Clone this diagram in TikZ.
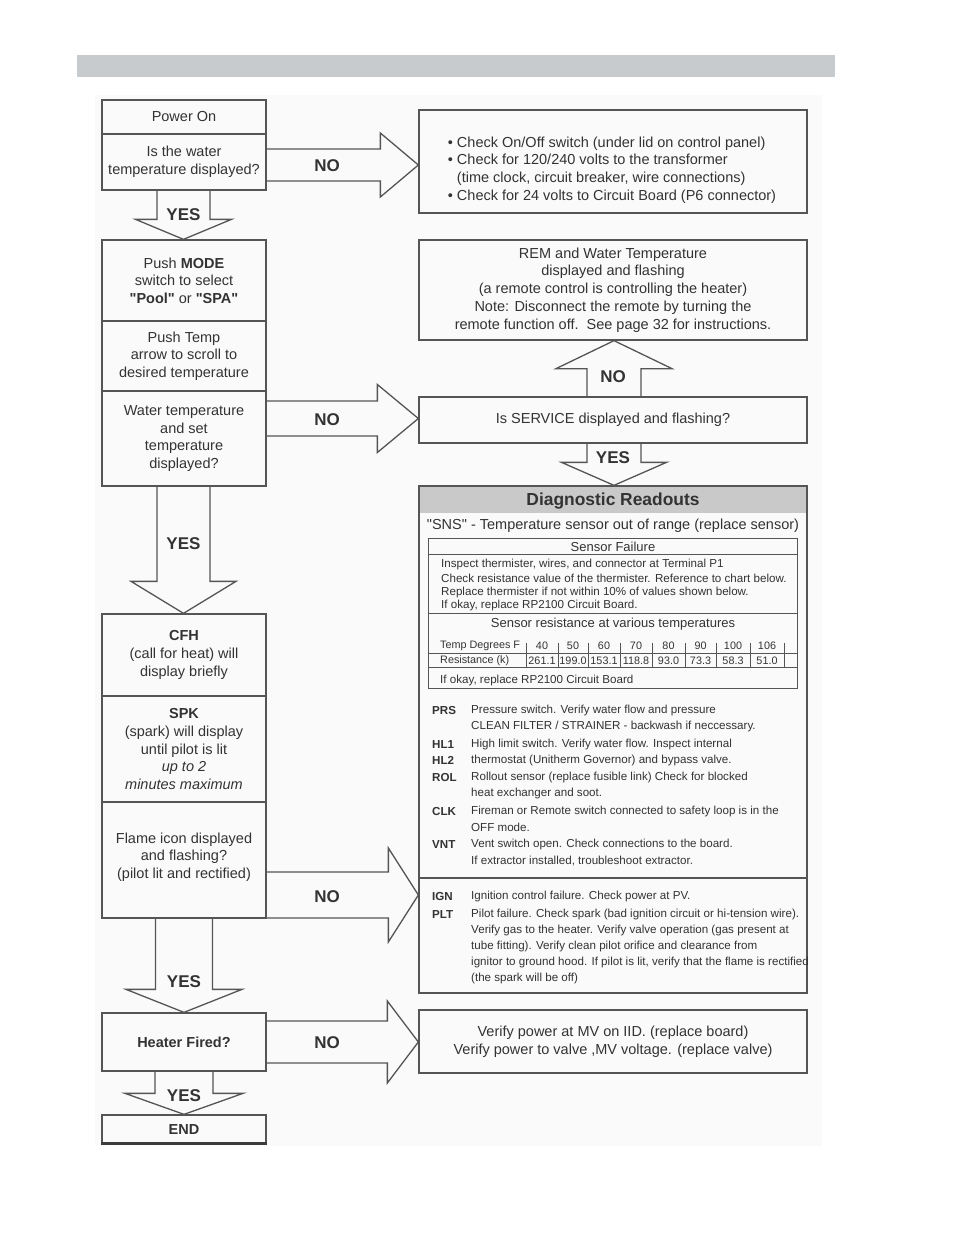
\documentclass[tikz,border=0pt]{standalone}
\usepackage{fontspec}
\setmainfont{Liberation Sans}[Ligatures=TeXOff]
\usetikzlibrary{calc}
\definecolor{lc}{HTML}{555555}
\definecolor{tc}{HTML}{333333}
\definecolor{barc}{HTML}{C8CBCE}
\definecolor{hdr}{HTML}{C9C9C9}
\definecolor{bgc}{HTML}{FAFAFA}
\newcommand\fmain{\fontsize{14.5}{17.6}\selectfont}
\newcommand\fsub{\fontsize{13}{15}\selectfont}
\newcommand\fsm{\fontsize{11.6}{14}\selectfont}
\newcommand\ftab{\fontsize{10.8}{13}\selectfont}
\newcommand\flab{\fontsize{17}{20}\selectfont\bfseries}
\tikzset{
 box/.style={draw=lc, line width=1.3pt, text=tc, align=center, inner sep=0pt, font=\fmain},
 lbox/.style={box, minimum width=164pt},
 rbox/.style={box, minimum width=388pt},
 blk/.style={draw=lc, line width=1.3pt, line join=miter},
 lab/.style={text=tc, font=\flab, inner sep=0pt},
 txt/.style={text=tc, font=\fmain, inner sep=0pt},
 sm/.style={text=tc, font=\fsm, inner sep=0pt, anchor=west},
 code/.style={text=tc, font=\fsm\bfseries, inner sep=0pt, anchor=west},
 thin/.style={draw=lc, line width=1pt},
}
% right block arrow: from, to, y centre, shaft half, head half, head length
\newcommand\arrR[6]{%
 \coordinate (ry) at (0,#3);
 \coordinate (ra) at (#1.east |- ry);
 \coordinate (rb) at (#2.west |- ry);
 \draw[blk] ($(ra)+(0,-#4)$) -- ($(rb)+(-#6,-#4)$) -- ($(rb)+(-#6,-#5)$) -- (rb) -- ($(rb)+(-#6,#5)$) -- ($(rb)+(-#6,#4)$) -- ($(ra)+(0,#4)$);}
% down block arrow: from, to, x centre, shaft half, head half, head length
\newcommand\arrD[6]{%
 \coordinate (rx) at (#3,0);
 \coordinate (ra) at (rx |- #1.south);
 \coordinate (rb) at (rx |- #2.north);
 \draw[blk] ($(ra)+(-#4,0)$) -- ($(rb)+(-#4,-#6)$) -- ($(rb)+(-#5,-#6)$) -- (rb) -- ($(rb)+(#5,-#6)$) -- ($(rb)+(#4,-#6)$) -- ($(ra)+(#4,0)$);}
% up block arrow
\newcommand\arrU[6]{%
 \coordinate (rx) at (#3,0);
 \coordinate (ra) at (rx |- #1.north);
 \coordinate (rb) at (rx |- #2.south);
 \draw[blk] ($(ra)+(-#4,0)$) -- ($(rb)+(-#4,#6)$) -- ($(rb)+(-#5,#6)$) -- (rb) -- ($(rb)+(#5,#6)$) -- ($(rb)+(#4,#6)$) -- ($(ra)+(#4,0)$);}
\begin{document}
\begin{tikzpicture}[x=1pt,y=-1pt]
\useasboundingbox (0,0) rectangle (954,1235);
\fill[white] (0,0) rectangle (954,1235);
\fill[bgc] (95,95) rectangle (822,1146);
\fill[barc] (77,55) rectangle (835,77);

% ---------- left column ----------
\node[lbox, minimum height=34pt] (pwr) at (184,117) {Power On};
\node[lbox, minimum height=56pt] (q1) at (184,162) {Is the water\\temperature displayed?};
\node[lbox, minimum height=81pt] (mode) at (184,280.5) {Push \textbf{MODE}\\switch to select\\\textbf{"Pool"} or \textbf{"SPA"}};
\node[lbox, minimum height=70pt] (ptemp) at (184,356) {Push Temp\\arrow to scroll to\\desired temperature};
\node[lbox, minimum height=95pt] (q2) at (184,438.5) {Water temperature\\and set\\temperature\\displayed?};
\node[lbox, minimum height=82pt] (cfh) at (184,655) {\textbf{CFH}\\(call for heat) will\\display briefly};
\node[lbox, minimum height=106pt] (spk) at (184,749) {\textbf{SPK}\\(spark) will display\\until pilot is lit\\\textit{up to 2}\\\textit{minutes maximum}};
\node[lbox, minimum height=116pt] (q3) at (184,860) {};
\node[txt, align=center] at (184,857) {Flame icon displayed\\and flashing?\\(pilot lit and rectified)};
\node[lbox, minimum height=58pt] (q4) at (184,1042) {\textbf{Heater Fired?}};
\node[lbox, minimum height=28pt] (endb) at (184,1129) {\textbf{END}};
\draw[line width=2.4pt, draw=lc!70!black] (endb.south west) -- (endb.south east);

% ---------- right column ----------
\node[rbox, minimum height=103pt] (chk) at (613,161.5) {};
\node[txt, align=left] at (612,170) {\textbullet\ Check On/Off switch (under lid on control panel)\\\textbullet\ Check for 120/240 volts to the transformer\\\hphantom{\textbullet\ }(time clock, circuit breaker, wire connections)\\\textbullet\ Check for 24 volts to Circuit Board (P6 connector)};
\node[rbox, minimum height=100pt, font=\fontsize{14.5}{17.8}\selectfont] (rem) at (613,290) {REM and Water Temperature\\displayed and flashing\\(a remote control is controlling the heater)\\Note: Disconnect the remote by turning the\\remote function off.\ \ See page 32 for instructions.};
\node[rbox, minimum height=46pt] (svc) at (613,420) {Is SERVICE displayed and flashing?};

% diagnostic panel
\fill[hdr] (419,486) rectangle (807,513);
\node[rbox, minimum height=507pt] (diag) at (613,739.5) {};
\draw[blk] (diag.west |- 0,878) -- (diag.east |- 0,878);
\node[txt, font=\fontsize{17.4}{20}\selectfont\bfseries] at (613,501) {Diagnostic Readouts};
\node[txt] at (613,526) {"SNS" - Temperature sensor out of range (replace sensor)};
\draw[thin] (428,538) rectangle (797,688);
\foreach \yy in {554,613,653,667} \draw[thin] (428,\yy) -- (797,\yy);
\foreach \xx in {526,558,588,620,652,685,716,750,784} {
  \draw[thin] (\xx,653) -- (\xx,667);
  \draw[thin] (\xx,643) -- (\xx,653);
}
\node[txt, font=\fsub] at (613,547) {Sensor Failure};
\node[sm] at (441,564) {Inspect thermister, wires, and connector at Terminal P1};
\node[sm] at (441,578) {Check resistance value of the thermister. Reference to chart below.};
\node[sm] at (441,592) {Replace thermister if not within 10\% of values shown below.};
\node[sm] at (441,605) {If okay, replace RP2100 Circuit Board.};
\node[txt, font=\fsub] at (613,624) {Sensor resistance at various temperatures};
\node[sm, font=\ftab] at (440,646) {Temp Degrees F};
\node[sm, font=\ftab] at (440,661) {Resistance (k)};
\foreach \cx/\tv/\rv in {542/40/261.1, 573/50/199.0, 604/60/153.1, 636/70/118.8, 668.5/80/93.0, 700.5/90/73.3, 733/100/58.3, 767/106/51.0} {
  \node[txt, font=\ftab] at (\cx,646) {\tv};
  \node[txt, font=\ftab] at (\cx,661) {\rv};
}
\node[sm] at (440,680) {If okay, replace RP2100 Circuit Board};

\node[code] at (432,710) {PRS};
\node[sm] at (471,710) {Pressure switch. Verify water flow and pressure};
\node[sm] at (471,726) {CLEAN FILTER / STRAINER - backwash if neccessary.};
\node[code] at (432,744) {HL1};
\node[sm] at (471,744) {High limit switch. Verify water flow. Inspect internal};
\node[code] at (432,760) {HL2};
\node[sm] at (471,760) {thermostat (Unitherm Governor) and bypass valve.};
\node[code] at (432,777) {ROL};
\node[sm] at (471,777) {Rollout sensor (replace fusible link) Check for blocked};
\node[sm] at (471,793) {heat exchanger and soot.};
\node[code] at (432,811) {CLK};
\node[sm] at (471,811) {Fireman or Remote switch connected to safety loop is in the};
\node[sm] at (471,827) {OFF mode.};
\node[code] at (432,844) {VNT};
\node[sm] at (471,844) {Vent switch open. Check connections to the board.};
\node[sm] at (471,861) {If extractor installed, troubleshoot extractor.};

\node[code] at (432,896) {IGN};
\node[sm] at (471,896) {Ignition control failure. Check power at PV.};
\node[code] at (432,914) {PLT};
\node[sm] at (471,914) {Pilot failure. Check spark (bad ignition circuit or hi-tension wire).};
\node[sm] at (471,930) {Verify gas to the heater. Verify valve operation (gas present at};
\node[sm] at (471,946) {tube fitting). Verify clean pilot orifice and clearance from};
\node[sm] at (471,962) {ignitor to ground hood. If pilot is lit, verify that the flame is rectified};
\node[sm] at (471,978) {(the spark will be off)};

\node[rbox, minimum height=63pt] (ver) at (613,1041.5) {Verify power at MV on IID. (replace board)\\Verify power to valve ,MV voltage. (replace valve)};

% ---------- block arrows ----------
\arrR{q1}{chk}{165}{16}{32}{38}
\arrR{q2}{svc}{418.5}{17.5}{34}{41}
\arrR{q3}{diag}{895}{23}{47}{30}
\arrR{q4}{ver}{1042}{21}{41}{31}
\arrD{q1}{mode}{183.5}{26.5}{48}{20}
\arrD{q2}{cfh}{183.5}{26.5}{52.5}{32}
\arrD{q3}{q4}{184}{28.5}{58}{23}
\arrD{q4}{endb}{184}{29}{59}{21}
\arrU{svc}{rem}{614}{27}{58}{28}
\arrD{svc}{diag}{614}{27}{52.5}{23}

% ---------- labels ----------
\node[lab] at (327,166) {NO};
\node[lab] at (327,420) {NO};
\node[lab] at (327,897) {NO};
\node[lab] at (327,1043) {NO};
\node[lab] at (613,377) {NO};
\node[lab] at (613,458) {YES};
\node[lab] at (183.5,215) {YES};
\node[lab] at (183.5,544) {YES};
\node[lab] at (184,982) {YES};
\node[lab] at (184,1096) {YES};
\end{tikzpicture}
\end{document}
